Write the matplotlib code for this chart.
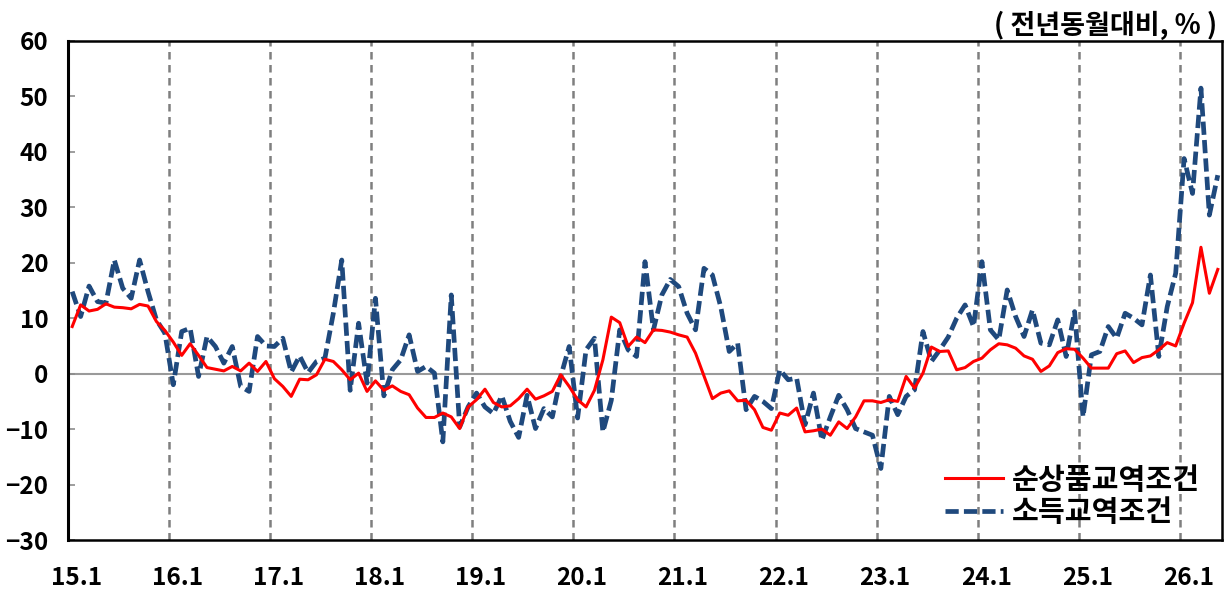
import matplotlib
matplotlib.use('Agg')
import matplotlib.pyplot as plt
import numpy as np

plt.rcParams['font.family'] = ['Noto Sans CJK KR', 'DejaVu Sans']
plt.rcParams['font.weight'] = 'bold'

# 2015.1 ~ 2026.5, 월별 (전년동월대비, %)
net_barter = [8.5, 12.4, 11.3, 11.6, 12.6, 12.0, 11.9, 11.7, 12.5, 12.2, 9.4, 7.8,
              5.7, 3.3, 5.4, 3.3, 1.1, 0.8, 0.5, 1.3, 0.5, 1.9, 0.4, 2.2,
              -0.9, -2.3, -4.1, -1.0, -1.1, -0.2, 2.6, 2.2, 0.7, -1.1, 0.1, -3.2,
              -1.3, -3.0, -2.2, -3.2, -3.8, -6.2, -7.9, -7.9, -7.1, -7.8, -9.9, -6.0,
              -4.7, -2.8, -5.2, -6.0, -5.8, -4.5, -2.8, -4.6, -4.0, -3.2, -0.2, -2.3,
              -4.7, -6.0, -3.0, 2.5, 10.2, 9.2, 4.9, 6.6, 5.6, 7.9, 7.8, 7.5,
              7.0, 6.6, 3.7, -0.4, -4.5, -3.5, -3.1, -4.9, -4.8, -6.5, -9.7, -10.2,
              -7.1, -7.5, -6.2, -10.5, -10.3, -10.0, -11.1, -8.7, -9.9, -7.8, -4.9, -4.9,
              -5.2, -4.7, -5.0, -0.5, -2.6, 0.1, 4.8, 4.0, 4.1, 0.7, 1.1, 2.2,
              2.8, 4.3, 5.4, 5.2, 4.6, 3.2, 2.6, 0.4, 1.4, 3.8, 4.5, 4.4,
              2.8, 1.0, 1.0, 1.0, 3.6, 4.1, 2.0, 2.9, 3.2, 4.3, 5.6, 5.0,
              9.1, 12.8, 22.8, 14.5, 18.8]

income = [14.8, 10.3, 15.8, 13.0, 12.7, 20.5, 15.4, 13.6, 20.5, 14.8, 9.7, 7.3,
          -2.0, 7.6, 8.2, -0.5, 6.7, 4.9, 1.9, 4.9, -2.3, -3.2, 6.7, 5.0,
          4.9, 6.4, 0.3, 3.2, 0.2, 2.2, 2.8, 10.9, 20.5, -3.0, 9.1, -1.7,
          13.6, -4.0, 0.7, 2.5, 7.0, 0.4, 1.3, 0.1, -12.3, 14.2, -9.6, -6.0,
          -3.5, -6.0, -7.2, -4.0, -8.6, -11.5, -3.9, -9.9, -6.3, -7.8, -0.5, 4.9,
          -8.0, 4.3, 6.4, -10.5, -4.8, 7.9, 4.3, 3.1, 20.2, 7.9, 14.2, 17.0,
          15.7, 10.9, 7.9, 19.0, 17.8, 12.0, 4.0, 5.5, -6.5, -4.1, -5.0, -6.3,
          0.7, -1.1, -0.8, -9.2, -3.5, -12.0, -7.8, -3.9, -6.5, -9.9, -10.5, -11.1,
          -17.1, -4.1, -7.4, -4.1, -2.9, 7.6, 2.2, 4.3, 6.6, 10.0, 12.4, 8.5,
          20.2, 7.9, 6.1, 15.1, 10.3, 6.7, 11.5, 5.5, 5.2, 9.7, 3.1, 11.2,
          -7.8, 3.4, 4.0, 8.5, 6.4, 10.9, 10.0, 8.8, 17.8, 3.1, 12.1, 18.1,
          38.8, 32.5, 51.5, 28.6, 35.8]

year_labels = ['15.1', '16.1', '17.1', '18.1', '19.1', '20.1',
               '21.1', '22.1', '23.1', '24.1', '25.1', '26.1']

x = np.arange(len(net_barter))

fig = plt.figure(figsize=(12.27, 5.91), dpi=100)
ax = fig.add_axes([68/1227, 1-540/591, (1222-68)/1227, (540-41)/591])

# 연도 구분선, 0선
for i in range(1, len(year_labels)):
    ax.axvline(12*i - 0.5, color='#7f7f7f', lw=1.8, ls=(0, (3, 2.2)), zorder=1)
ax.axhline(0, color='#9a9a9a', lw=1.5, zorder=1)

ax.plot(x, net_barter, color='#ff0000', lw=2.2, label='순상품교역조건', zorder=3)
ax.plot(x, income, color='#1f497d', lw=3.4, ls=(0, (2.8, 1.1)), label='소득교역조건', zorder=2)

ax.set_xlim(-0.5, len(net_barter) - 0.5)
ax.set_ylim(-30, 60)
ax.set_yticks(range(-30, 61, 10))
ax.set_xticks(np.arange(len(year_labels))*12 + 0.5)
ax.set_xticklabels(year_labels)

ax.tick_params(axis='y', direction='in', length=5, width=1.2, color='#8c8c8c',
               labelsize=17.5, pad=14)
ax.tick_params(axis='x', length=0, labelsize=17.5, pad=19)
for s in ax.spines.values():
    s.set_linewidth(1.8)
    s.set_color('black')
ax.spines['left'].set_linewidth(2.2)

leg = ax.legend(loc='upper left', bbox_to_anchor=(930/1227, 1-450/591),
                bbox_transform=fig.transFigure, frameon=False, fontsize=21,
                handlelength=2.0, handletextpad=0.3, labelspacing=0.08, borderpad=0)

fig.text(1217/1227, 1-25/591, '( 전년동월대비, % )', ha='right', va='center', fontsize=19.5)

fig.savefig('out.png', dpi=100)
